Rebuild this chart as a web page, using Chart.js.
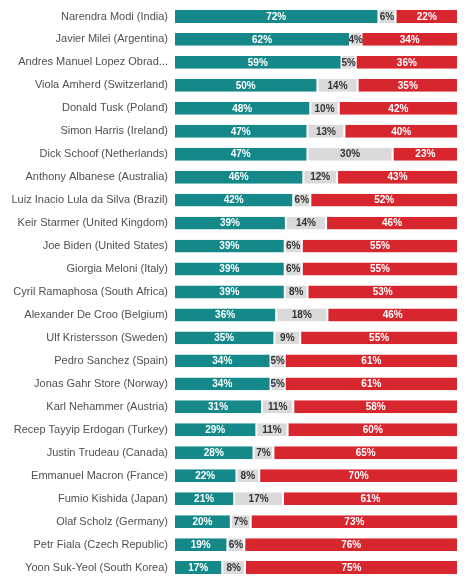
<!DOCTYPE html>
<html>
<head>
<meta charset="utf-8">
<script src="https://cdn.jsdelivr.net/npm/chart.js@4"></script>
<style>
  html, body { margin: 0; padding: 0; background: #fff; }
  #wrap { width: 466px; height: 581px; position: relative; }
</style>
</head>
<body>
<div id="wrap"><canvas id="approvalChart"></canvas></div>
<script>
const leaders = [
    'Narendra Modi (India)', 'Javier Milei (Argentina)', 'Andres Manuel Lopez Obrad...',
    'Viola Amherd (Switzerland)', 'Donald Tusk (Poland)', 'Simon Harris (Ireland)',
    'Dick Schoof (Netherlands)', 'Anthony Albanese (Australia)', 'Luiz Inacio Lula da Silva (Brazil)',
    'Keir Starmer (United Kingdom)', 'Joe Biden (United States)', 'Giorgia Meloni (Italy)',
    'Cyril Ramaphosa (South Africa)', 'Alexander De Croo (Belgium)', 'Ulf Kristersson (Sweden)',
    'Pedro Sanchez (Spain)', 'Jonas Gahr Store (Norway)', 'Karl Nehammer (Austria)',
    'Recep Tayyip Erdogan (Turkey)', 'Justin Trudeau (Canada)', 'Emmanuel Macron (France)',
    'Fumio Kishida (Japan)', 'Olaf Scholz (Germany)', 'Petr Fiala (Czech Republic)',
    'Yoon Suk-Yeol (South Korea)'
];
const approve    = [72, 62, 59, 50, 48, 47, 47, 46, 42, 39, 39, 39, 39, 36, 35, 34, 34, 31, 29, 28, 22, 21, 20, 19, 17];
const noOpinion  = [6, 4, 5, 14, 10, 13, 30, 12, 6, 14, 6, 6, 8, 18, 9, 5, 5, 11, 11, 7, 8, 17, 7, 6, 8];
const disapprove = [22, 34, 36, 35, 42, 40, 23, 43, 52, 46, 55, 55, 53, 46, 55, 61, 61, 58, 60, 65, 70, 61, 73, 76, 75];

const TEAL = '#15898a';
const GREY = '#dadada';
const RED = '#d8262f';

// each row fills the full width, so scale to the row total
const totals = approve.map((v, i) => v + noOpinion[i] + disapprove[i]);
const share = arr => arr.map((v, i) => v / totals[i] * 100);

const rawValues = [approve, noOpinion, disapprove];

// draw the percentage text inside each segment
const segmentLabels = {
    id: 'segmentLabels',
    afterDatasetsDraw(chart) {
        const ctx = chart.ctx;
        ctx.save();
        ctx.font = "bold 10px 'Liberation Sans', Arial, sans-serif";
        ctx.textAlign = 'center';
        ctx.textBaseline = 'middle';
        chart.data.datasets.forEach((ds, di) => {
            chart.getDatasetMeta(di).data.forEach((bar, i) => {
                const left = Math.min(bar.x, bar.base);
                const right = Math.max(bar.x, bar.base);
                ctx.fillStyle = di === 1 ? '#333' : '#fff';
                ctx.fillText(rawValues[di][i] + '%', (left + right) / 2, bar.y + 0.5);
            });
        });
        ctx.restore();
    }
};

const commonBar = {
    borderColor: '#fff',
    borderWidth: { left: 1, right: 1, top: 0, bottom: 0 },
    borderSkipped: false,
    barPercentage: 0.56,
    categoryPercentage: 1
};

new Chart(document.getElementById('approvalChart'), {
    type: 'bar',
    data: {
        labels: leaders,
        datasets: [
            { label: 'Approve', data: share(approve), backgroundColor: TEAL, ...commonBar },
            { label: 'Don\'t know', data: share(noOpinion), backgroundColor: GREY, ...commonBar },
            { label: 'Disapprove', data: share(disapprove), backgroundColor: RED, ...commonBar }
        ]
    },
    options: {
        indexAxis: 'y',
        responsive: true,
        maintainAspectRatio: false,
        animation: false,
        layout: { padding: { top: 5, bottom: 2, right: 8, left: 0 } },
        plugins: {
            legend: { display: false },
            tooltip: { enabled: false }
        },
        scales: {
            x: { stacked: true, min: 0, max: 100, display: false },
            y: {
                stacked: true,
                grid: { display: false },
                border: { display: false },
                ticks: {
                    color: '#505050',
                    padding: -2,
                    autoSkip: false,
                    font: { family: "'Liberation Sans', Arial, sans-serif", size: 11 }
                },
                afterFit(scale) {
                    scale.width = 174;
                    scale.paddingTop = 0;
                    scale.paddingBottom = 0;
                }
            }
        }
    },
    plugins: [segmentLabels]
});
</script>
</body>
</html>
